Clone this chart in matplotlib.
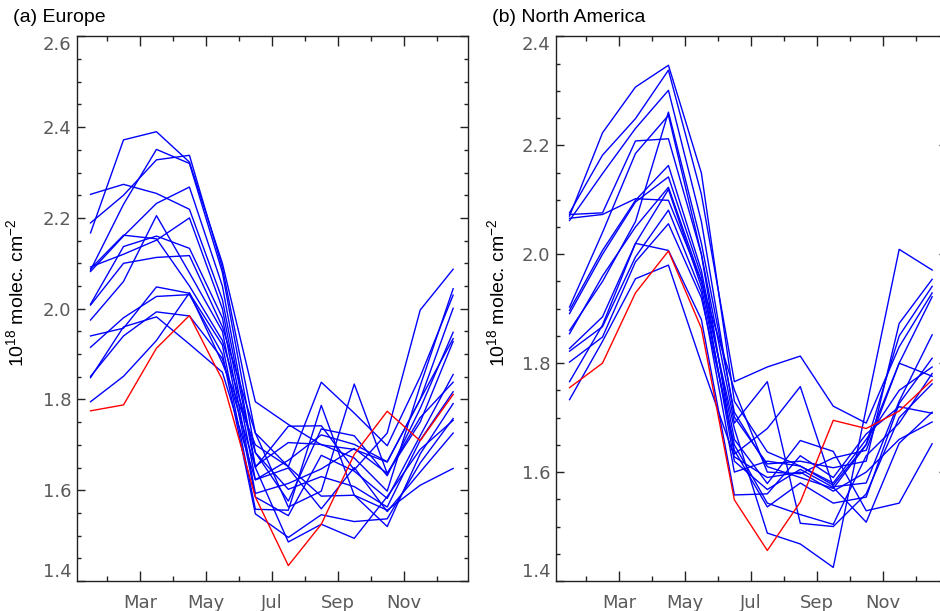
import matplotlib
matplotlib.use("Agg")
import matplotlib.pyplot as plt
from matplotlib.ticker import FixedLocator, MultipleLocator

plt.rcParams['font.family'] = ['Liberation Sans', 'DejaVu Sans']
plt.rcParams['mathtext.fontset'] = 'custom'
plt.rcParams['mathtext.rm'] = 'Liberation Sans'
plt.rcParams['mathtext.it'] = 'Liberation Sans:italic'
plt.rcParams['mathtext.bf'] = 'Liberation Sans:bold'

# month positions (mid-month) Jan..Dec
months = [1.5, 2.5, 3.5, 4.5, 5.5, 6.5, 7.5, 8.5, 9.5, 10.5, 11.5, 12.5]
tick_major = [3, 5, 7, 9, 11]
tick_labels = ['Mar', 'May', 'Jul', 'Sep', 'Nov']
tick_minor = [2, 4, 6, 8, 10, 12]

# ---- (a) Europe: 15 model lines (blue) + observation (red)
eu_models = [
    [2.167, 2.372, 2.390, 2.323, 2.100, 1.795, 1.745, 1.700, 1.690, 1.662, 1.800, 1.934],
    [2.189, 2.250, 2.328, 2.338, 2.090, 1.726, 1.652, 1.838, 1.770, 1.698, 1.850, 2.030],
    [2.085, 2.230, 2.351, 2.320, 2.080, 1.683, 1.576, 1.735, 1.720, 1.632, 1.780, 1.948],
    [2.252, 2.274, 2.254, 2.219, 2.020, 1.650, 1.741, 1.742, 1.645, 1.726, 1.997, 2.087],
    [2.082, 2.160, 2.232, 2.268, 2.050, 1.653, 1.705, 1.701, 1.671, 1.598, 1.830, 2.044],
    [2.092, 2.120, 2.151, 2.200, 2.000, 1.623, 1.666, 1.722, 1.701, 1.663, 1.800, 2.001],
    [2.010, 2.137, 2.160, 2.133, 1.980, 1.593, 1.615, 1.647, 1.692, 1.637, 1.750, 1.928],
    [1.975, 2.060, 2.205, 2.079, 1.950, 1.585, 1.544, 1.677, 1.642, 1.582, 1.720, 1.855],
    [2.008, 2.100, 2.113, 2.117, 1.960, 1.726, 1.563, 1.598, 1.834, 1.637, 1.760, 1.838],
    [2.088, 2.162, 2.154, 2.050, 1.930, 1.683, 1.602, 1.630, 1.608, 1.563, 1.710, 1.817],
    [1.940, 1.957, 2.048, 2.034, 1.920, 1.558, 1.556, 1.787, 1.589, 1.520, 1.680, 1.791],
    [1.915, 1.980, 2.027, 2.031, 1.900, 1.548, 1.496, 1.546, 1.531, 1.537, 1.660, 1.758],
    [1.851, 1.940, 1.993, 1.984, 1.890, 1.650, 1.486, 1.525, 1.494, 1.586, 1.690, 1.754],
    [1.848, 1.960, 1.982, 1.922, 1.860, 1.623, 1.649, 1.559, 1.650, 1.553, 1.640, 1.726],
    [1.795, 1.851, 1.930, 2.035, 1.880, 1.700, 1.652, 1.587, 1.589, 1.556, 1.611, 1.648],
]
eu_obs = [1.775, 1.788, 1.913, 1.985, 1.843, 1.585, 1.434, 1.525, 1.679, 1.774, 1.709, 1.811]

# ---- (b) North America
na_models = [
    [2.070, 2.223, 2.307, 2.347, 2.149, 1.730, 1.637, 1.611, 1.576, 1.651, 1.850, 1.941],
    [2.076, 2.182, 2.249, 2.338, 2.110, 1.766, 1.793, 1.813, 1.721, 1.690, 1.830, 1.929],
    [2.062, 2.148, 2.231, 2.301, 2.060, 1.701, 1.615, 1.620, 1.608, 1.620, 1.873, 1.954],
    [2.073, 2.076, 2.208, 2.212, 2.000, 1.690, 1.766, 1.506, 1.500, 1.560, 1.700, 1.762],
    [2.066, 2.073, 2.102, 2.099, 1.950, 1.751, 1.600, 1.597, 1.626, 1.640, 1.800, 1.922],
    [1.903, 2.040, 2.185, 2.255, 2.000, 1.633, 1.680, 1.757, 1.573, 1.580, 1.730, 1.852],
    [1.897, 2.007, 2.099, 2.163, 1.970, 1.660, 1.579, 1.658, 1.638, 1.529, 1.543, 1.652],
    [1.891, 2.000, 2.096, 2.142, 1.960, 1.620, 1.568, 1.605, 1.572, 1.508, 1.653, 1.710],
    [1.854, 1.960, 2.050, 2.123, 1.950, 1.680, 1.488, 1.468, 1.425, 1.717, 2.009, 1.971],
    [1.827, 1.885, 2.020, 2.119, 1.940, 1.640, 1.536, 1.580, 1.543, 1.554, 1.726, 1.809],
    [1.822, 1.867, 1.995, 2.081, 1.930, 1.600, 1.620, 1.611, 1.580, 1.660, 1.750, 1.793],
    [1.802, 1.848, 1.986, 2.056, 1.920, 1.650, 1.543, 1.522, 1.504, 1.630, 1.690, 1.781],
    [1.766, 1.870, 2.020, 2.007, 1.880, 1.558, 1.560, 1.630, 1.590, 1.670, 1.720, 1.708],
    [1.733, 1.840, 1.955, 1.980, 1.800, 1.628, 1.590, 1.600, 1.565, 1.600, 1.660, 1.692],
    [1.860, 1.950, 2.060, 2.261, 2.020, 1.710, 1.610, 1.590, 1.570, 1.650, 1.800, 1.776],
]
na_obs = [1.755, 1.800, 1.929, 2.006, 1.864, 1.549, 1.456, 1.545, 1.695, 1.680, 1.712, 1.769]

panels = [
    ("(a) Europe", eu_models, eu_obs, (1.4, 2.6), [1.4, 1.6, 1.8, 2.0, 2.2, 2.4, 2.6]),
    ("(b) North America", na_models, na_obs, (1.4, 2.4), [1.4, 1.6, 1.8, 2.0, 2.2, 2.4]),
]

W, H = 940, 611
fig = plt.figure(figsize=(W / 100, H / 100), dpi=100)

ax_left_px = [76.7, 555.7]
ax_w_px = 391.6
ax_top_px, ax_bot_px = 36.4, 581.0
label_right_px = [27.5, 508.0]

tick_col = '#5a5a5a'
spine_col = '#222222'

for i, (title, models, obs, ylim, yt) in enumerate(panels):
    l = ax_left_px[i]
    ax = fig.add_axes([l / W, (H - ax_bot_px) / H, ax_w_px / W, (ax_bot_px - ax_top_px) / H])
    for m in models:
        ax.plot(months, m, color='#0000ff', lw=1.0)
    ax.plot(months, obs, color='#ff0000', lw=1.0, zorder=5)
    ax.set_xlim(1.08, 12.96)
    ax.set_ylim(*ylim)
    ax.xaxis.set_major_locator(FixedLocator(tick_major))
    ax.xaxis.set_minor_locator(FixedLocator(tick_minor))
    ax.set_xticklabels(tick_labels)
    ax.set_yticks(yt)
    ax.set_yticklabels([f"{v:.1f}" for v in yt])
    ax.yaxis.set_minor_locator(MultipleLocator(0.05))
    ax.tick_params(axis='x', which='major', direction='in', length=7, width=1.0,
                   top=True, bottom=True, color=spine_col, labelcolor=tick_col,
                   labelsize=13, pad=9)
    ax.tick_params(axis='x', which='minor', direction='in', length=3.6, width=1.0,
                   top=True, bottom=True, color=spine_col)
    ax.tick_params(axis='y', which='major', direction='in', length=5.5, width=1.0,
                   left=True, right=True, color=spine_col, labelcolor=tick_col,
                   labelsize=13, pad=4)
    ax.tick_params(axis='y', which='minor', direction='in', length=2.7, width=1.0,
                   left=True, right=True, color=spine_col)
    for lab in ax.get_xticklabels() + ax.get_yticklabels():
        lab.set_family(['DejaVu Sans'])
    ylabs = ax.get_yticklabels()
    ylabs[0].set_va('bottom')
    ylabs[-1].set_va('top')
    for s in ax.spines.values():
        s.set_color(spine_col)
        s.set_linewidth(1.0)
    ax.set_ylabel(r'10$^{18}$ molec. cm$^{-2}$', fontsize=14, color='black')
    ax.yaxis.set_label_coords((label_right_px[i] - l) / ax_w_px, 0.53)
    fig.text((l - 64) / W, 1 - 18 / H, title, fontsize=14, ha='left', va='center')

fig.savefig('out.png', dpi=100)
